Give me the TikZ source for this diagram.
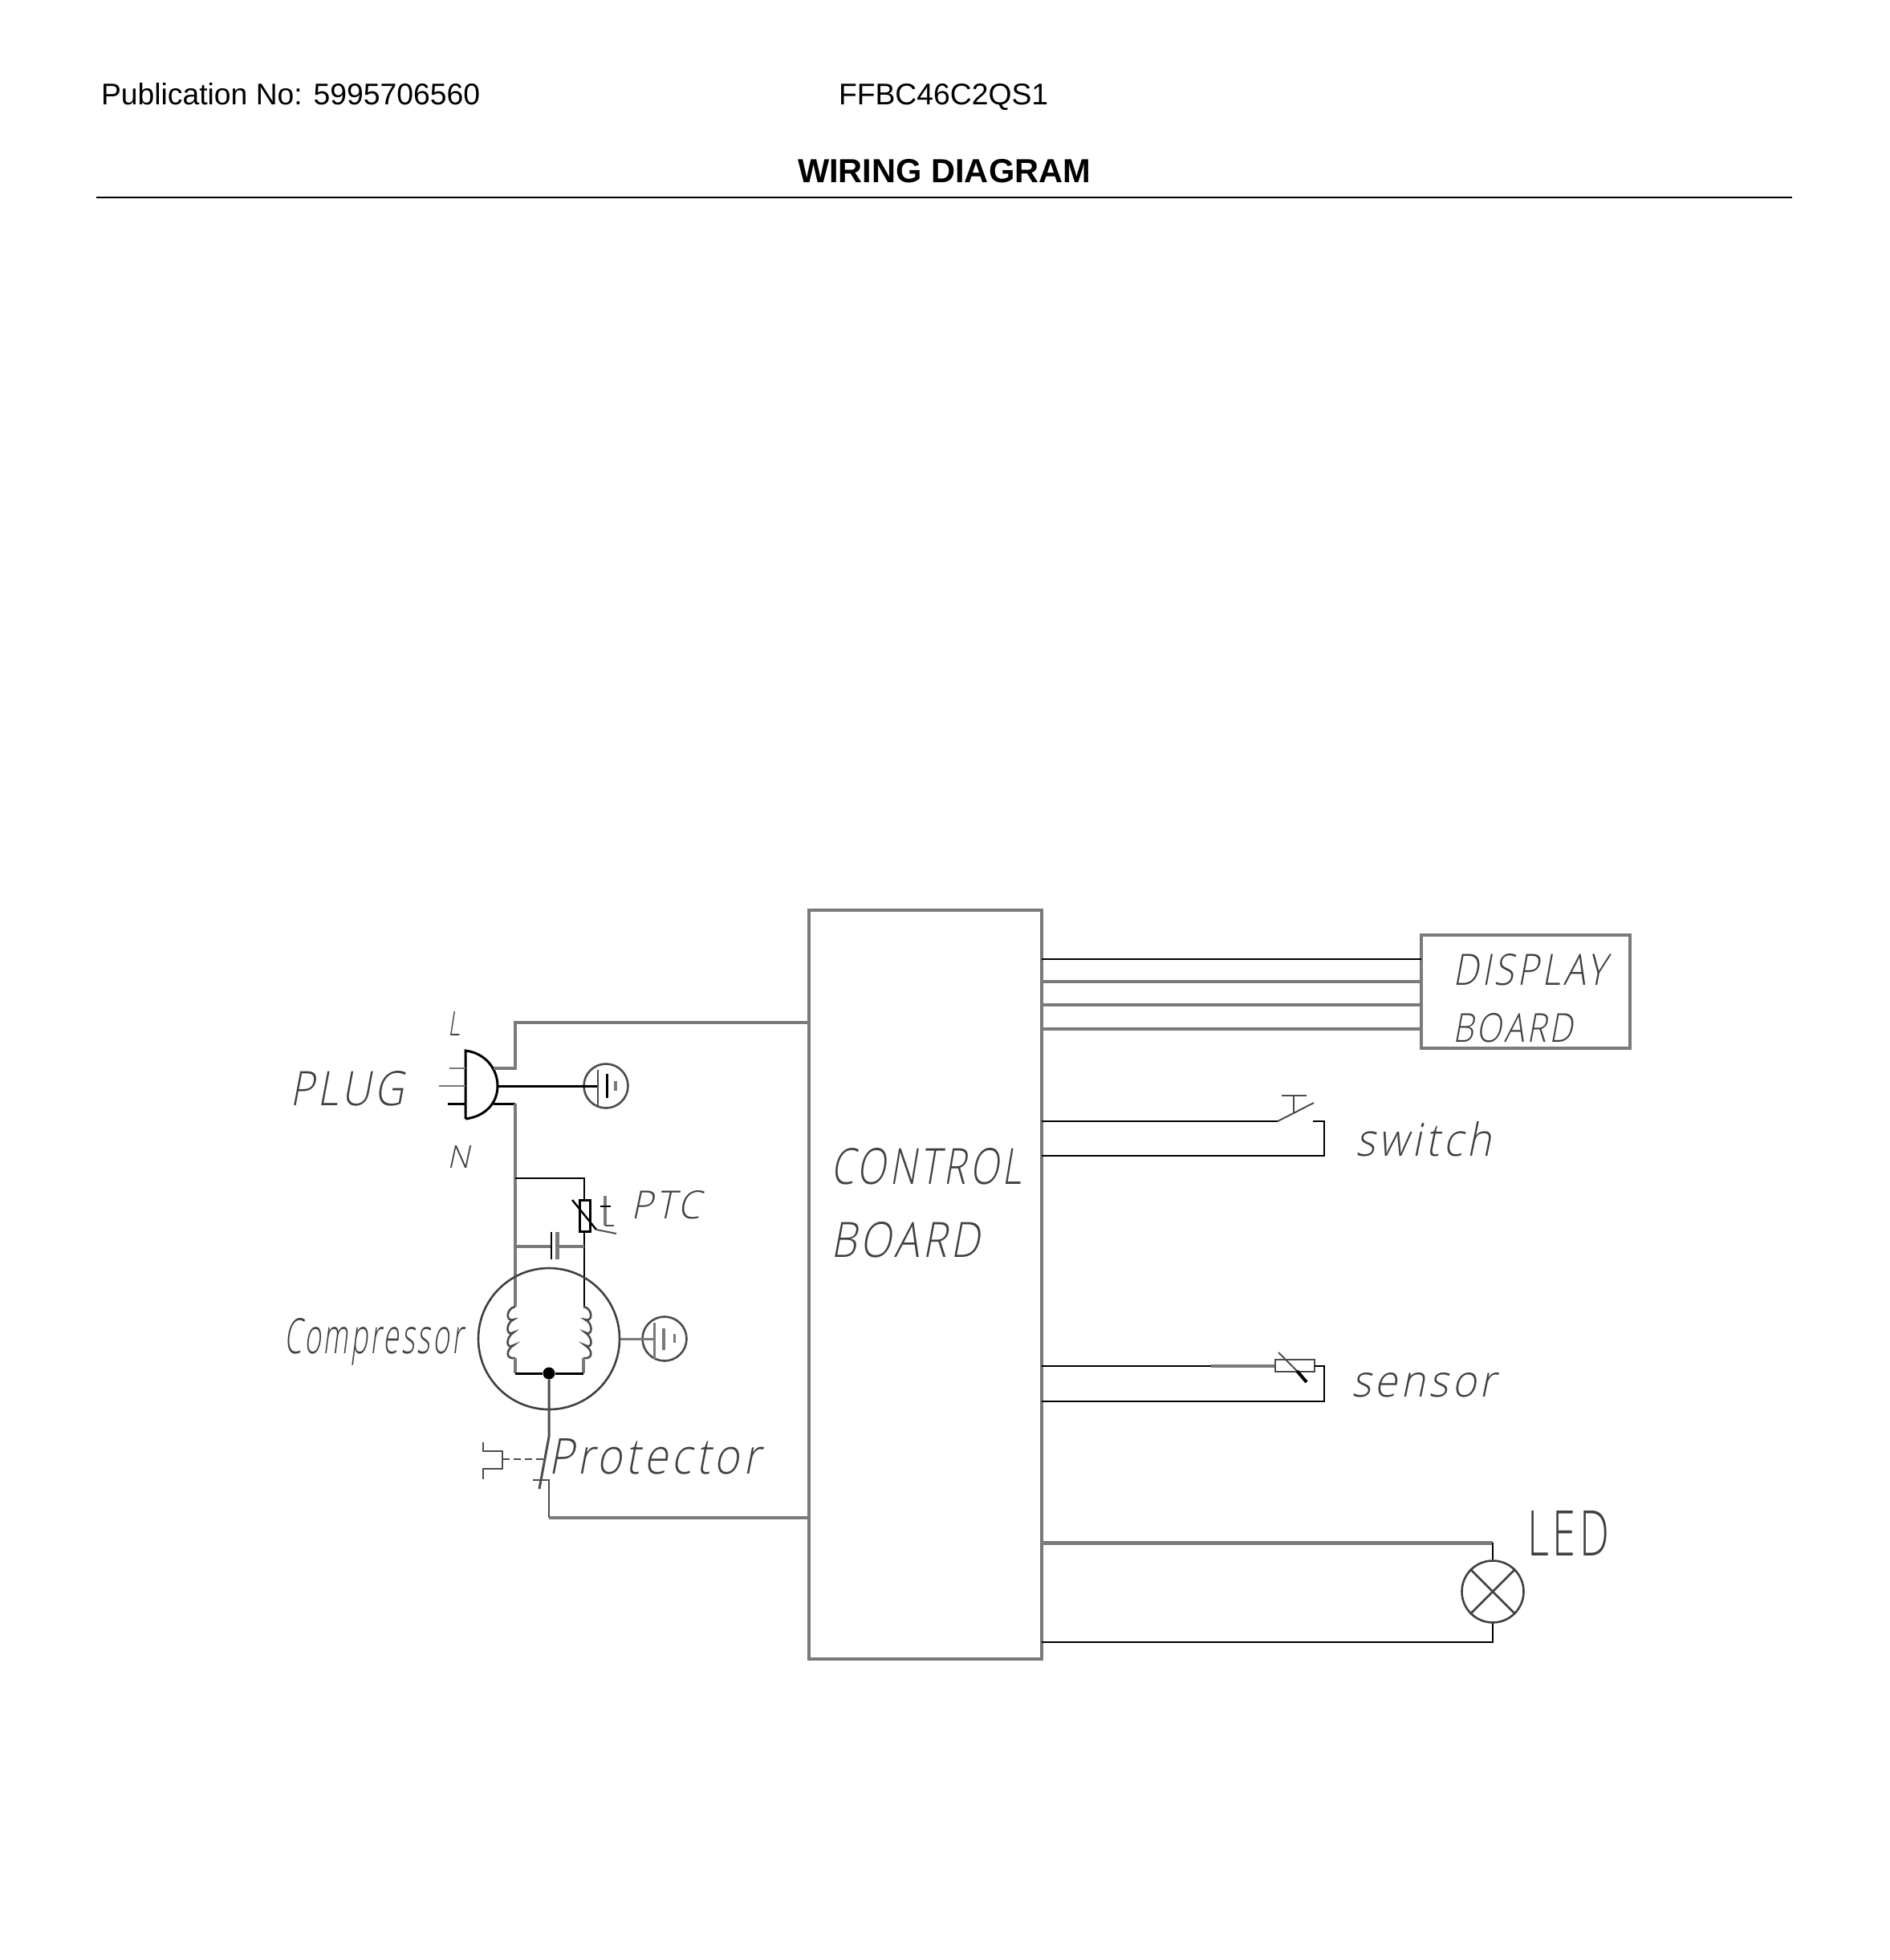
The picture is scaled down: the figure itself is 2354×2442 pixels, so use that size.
\documentclass[tikz,border=0pt]{standalone}
\usepackage{graphicx}
\usepackage{fontspec}
\setmainfont{Liberation Sans}
\newfontfamily\cadit[FakeSlant=0.22,LetterSpace=9]{Open Sans Light}
\newfontfamily\cadup[LetterSpace=9]{Open Sans Light}
\newcommand{\fitit}[3]{\resizebox{#1pt}{#2pt}{\cadit #3}}
\newcommand{\fitup}[3]{\resizebox{#1pt}{#2pt}{\cadup #3}}
\tikzset{
  wire/.style={draw=black,line width=2.4pt,line join=miter},
  gwire/.style={draw=black!52,line width=3.6pt,line join=miter},
  thin wire/.style={draw=black!70,line width=2pt},
  cadlabel/.style={anchor=base west,inner sep=0pt,outer sep=0pt,text=black!75},
  head/.style={anchor=base west,inner sep=0pt,outer sep=0pt,font=\fontsize{37.3}{37.3}\selectfont},
}
\begin{document}
\begin{tikzpicture}[x=1pt,y=-1pt]
\useasboundingbox (0,0) rectangle (2354,2442);
% header
\node[head] (pub) at (126,130) {Publication No: 5995706560};
\node[head] (model) at (1045,130) {FFBC46C2QS1};
\node[head,font=\fontsize{41.6}{41.6}\selectfont\bfseries] (title) at (994,227) {WIRING DIAGRAM};
\coordinate (ruleL) at (120,246);
\coordinate (ruleR) at (2233,246);
\draw[line width=2.2pt] (ruleL) -- (ruleR);
% boxes
\coordinate (bnw) at (1008,1134); \coordinate (bse) at (1298,2067);
\draw[gwire] (bnw) rectangle (bse);
\coordinate (dnw) at (1771,1165); \coordinate (dse) at (2031,1306);
\draw[gwire] (dnw) rectangle (dse);
\node[cadlabel] (t1) at (1035,1475) {\fitit{238}{45}{CONTROL}};
\node[cadlabel] (t2) at (1035,1566) {\fitit{186}{44}{BOARD}};
\node[cadlabel] (t3) at (1810,1227) {\fitit{191}{39}{DISPLAY}};
\node[cadlabel] (t4) at (1810,1298) {\fitit{150}{36}{BOARD}};
\node[cadlabel] (t5) at (361,1377) {\fitit{142}{43}{PLUG}};
\node[cadlabel] (t6) at (558,1290) {\fitit{15}{30}{L}};
\node[cadlabel] (t7) at (557,1455) {\fitit{28}{28}{N}};
\node[cadlabel] (t8) at (786,1518) {\fitit{87}{35}{PTC}};
\node[cadlabel] (t9) at (354,1686) {\fitit{223}{44}{Compressor}};
\node[cadlabel] (t10) at (683,1836) {\fitit{264}{44}{Protector}};
\node[cadlabel] (t11) at (1689,1440) {\fitit{169}{43}{switch}};
\node[cadlabel] (t12) at (1684,1740) {\fitit{180}{30}{sensor}};
\node[cadlabel] (t13) at (1903,1938) {\fitup{102}{56}{LED}};
% display wires
\foreach \yy/\st in {1195/wire,1223/gwire,1252/gwire,1282/gwire}
  \draw[\st] (1298,\yy) -- (1771,\yy);
% switch
\coordinate (swa) at (1592,1397); \coordinate (swb) at (1637,1374);
\draw[wire] (1298,1397) -- (swa);
\draw[thin wire] (swa) -- (swb);
\draw[thin wire] (1612,1365) -- (1612,1387);
\draw[thin wire] (1597,1365) -- (1628,1365);
\draw[wire] (1636,1397) -- (1650,1397) -- (1650,1440) -- (1298,1440);
% sensor
\coordinate (sra) at (1589,1702); \coordinate (srb) at (1638,1702);
\draw[wire] (1298,1702) -- (1509,1702);
\draw[gwire] (1509,1702) -- (sra);
\draw[thin wire] (sra |- 0,1694) rectangle (1638,1709);
\draw[wire] (srb) -- (1650,1702) -- (1650,1746) -- (1298,1746);
\draw[thin wire] (1593,1685) -- (1616,1708);
\draw[line width=4pt] (1616,1708) -- (1628,1722);
% LED
\node[circle,draw=black!75,line width=2.6pt,minimum size=77pt,inner sep=0pt] (lamp) at (1860,1983) {};
\draw[gwire,line width=5pt] (1298,1922) -- (1860,1922);
\draw[wire] (1860,1922) -- (lamp.north);
\draw[wire] (lamp.south) -- (1860,2046) -- (1298,2046);
\draw[draw=black!75,line width=2.6pt] (lamp.north west) -- (lamp.south east);
\draw[draw=black!75,line width=2.6pt] (lamp.north east) -- (lamp.south west);
% plug
\coordinate (plt) at (580,1309); \coordinate (plb) at (580,1394);
\draw[wire,line width=3pt] (plb) -- (plt) .. controls (605,1312) and (620,1332) .. (620,1353) .. controls (620,1374) and (605,1391) .. (plb);
\draw[gwire,line width=2.6pt] (560,1331) -- (580,1331);
\draw[gwire,line width=2.6pt] (547,1353) -- (580,1353);
\draw[wire,line width=3pt] (558,1375) -- (580,1375);
\draw[gwire] (615,1331) -- (642,1331) -- (642,1274) -- (1008,1274);
\draw[wire,line width=3pt] (615,1375) -- (642,1375);
\draw[gwire] (642,1375) -- (642,1628);
% earth 1
\node[circle,draw=black!70,line width=2.6pt,minimum size=55pt,inner sep=0pt] (e1) at (755,1353) {};
\draw[wire,line width=3pt] (620,1353) -- (745,1353);
\draw[thin wire] (745,1333) -- (745,1380);
\draw[wire,line width=3pt] (756,1338) -- (756,1368);
\draw[gwire] (767,1347) -- (767,1359);
% PTC branch
\draw[wire] (642,1468) -- (728,1468) -- (728,1495);
\draw[wire,line width=3pt] (722,1495) rectangle (735,1534);
\draw[wire] (728,1534) -- (728,1628);
\draw[wire] (713,1495) -- (743,1532);
\draw[thin wire] (743,1532) -- (768,1537);
\draw[gwire] (754,1490) -- (754,1527);
\draw[wire] (748,1503) -- (761,1503);
\draw[thin wire] (754,1527) -- (765,1527);
% capacitor
\draw[gwire] (642,1553) -- (687,1553);
\draw[wire] (687,1535) -- (687,1569);
\draw[gwire,line width=5pt] (694,1535) -- (694,1569);
\draw[gwire] (694,1553) -- (728,1553);
% compressor
\node[circle,draw=black!75,line width=2.6pt,minimum size=176pt,inner sep=0pt] (comp) at (684,1668) {};
\node[circle,fill=black,inner sep=0pt,minimum size=15pt] (dot) at (684,1711) {};
\draw[thin wire,line width=2.6pt] (642,1628) .. controls (630,1630) and (630,1648) .. (640,1644) .. controls (630,1648) and (630,1666) .. (640,1660) .. controls (630,1666) and (630,1682) .. (640,1676) .. controls (630,1682) and (630,1694) .. (642,1692);
\draw[thin wire,line width=2.6pt] (727,1628) .. controls (739,1630) and (739,1648) .. (729,1644) .. controls (739,1648) and (739,1666) .. (729,1660) .. controls (739,1666) and (739,1682) .. (729,1676) .. controls (739,1682) and (739,1694) .. (727,1692);
\draw[gwire] (642,1692) -- (642,1711);
\draw[gwire] (727,1692) -- (727,1711);
\draw[wire,line width=3pt] (642,1711) -- (dot) -- (727,1711);
% compressor earth
\node[circle,draw=black!70,line width=2.6pt,minimum size=55pt,inner sep=0pt] (e2) at (828,1668) {};
\draw[gwire,line width=3pt] (comp.east) -- (815,1668);
\draw[gwire,line width=3pt] (815,1648) -- (815,1693);
\draw[gwire] (827,1655) -- (827,1682);
\draw[gwire,line width=3pt] (840,1662) -- (840,1673);
% protector
\coordinate (pa) at (684,1790); \coordinate (pb) at (672,1855);
\draw[thin wire,line width=3pt] (dot) -- (pa) -- (pb);
\draw[thin wire] (664,1844) -- (684,1844) -- (684,1891);
\draw[gwire] (684,1891) -- (1008,1891);
\draw[thin wire,dash pattern=on 9pt off 5pt] (626,1818) -- (677,1818);
\draw[thin wire] (602,1797) -- (602,1808) -- (626,1808) -- (626,1830) -- (602,1830) -- (602,1843);
\end{tikzpicture}
\end{document}
